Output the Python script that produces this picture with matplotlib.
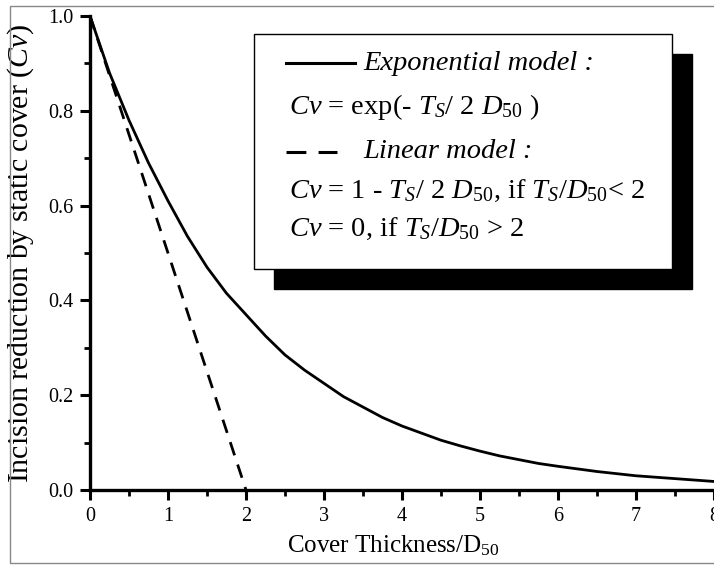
import matplotlib
matplotlib.use('Agg')
import matplotlib.pyplot as plt
import matplotlib.patches as mpatches
from matplotlib.lines import Line2D
from matplotlib.ticker import MultipleLocator, FormatStrFormatter

plt.rcParams['font.family'] = ['Liberation Serif', 'DejaVu Serif']
plt.rcParams['mathtext.fontset'] = 'custom'
plt.rcParams['mathtext.rm'] = 'Liberation Serif'
plt.rcParams['mathtext.it'] = 'Liberation Serif:italic'

# values
exp_x = [0, 0.25, 0.5, 0.75, 1, 1.25, 1.5, 1.75, 2, 2.25, 2.5, 2.75, 3, 3.25, 3.5, 3.75,
         4, 4.25, 4.5, 4.75, 5, 5.25, 5.5, 5.75, 6, 6.5, 7, 7.5, 8]
exp_y = [1.0, 0.88, 0.78, 0.69, 0.61, 0.535, 0.47, 0.415, 0.37, 0.325, 0.285, 0.253,
         0.225, 0.197, 0.175, 0.153, 0.135, 0.12, 0.105, 0.093, 0.082, 0.072, 0.064,
         0.056, 0.05, 0.039, 0.03, 0.024, 0.018]
lin_x = [0, 2]
lin_y = [1.0, 0.0]

W, H = 714, 565
fig = plt.figure(figsize=(W / 100, H / 100), dpi=100)
ax = fig.add_axes([90 / W, 1 - 490 / H, 624 / W, 474 / H])

ax.plot(exp_x, exp_y, color='black', lw=2.0, solid_joinstyle='round')
ax.plot(lin_x, lin_y, color='black', lw=2.0, linestyle=(0, (5, 3.5)))

ax.set_xlim(0, 8)
ax.set_ylim(0, 1.0)
ax.xaxis.set_major_locator(MultipleLocator(1))
ax.xaxis.set_minor_locator(MultipleLocator(0.5))
ax.yaxis.set_major_locator(MultipleLocator(0.2))
ax.yaxis.set_minor_locator(MultipleLocator(0.1))
ax.yaxis.set_major_formatter(FormatStrFormatter('%.1f'))
ax.tick_params(which='major', direction='out', length=7, width=2.2, labelsize=14.5, pad=5)
ax.tick_params(which='minor', direction='out', length=4, width=2.0)
for s in ['top', 'right']:
    ax.spines[s].set_visible(False)
for s in ['left', 'bottom']:
    ax.spines[s].set_linewidth(2.4)

ax.set_xlabel('Cover Thickness/D$_{\\mathrm{50}}$', fontsize=18, va='top')
ax.xaxis.set_label_coords((393 - 90) / 624, (490 - 533) / 474)
ax.set_ylabel('Incision reduction by static cover ($Cv$)', fontsize=21.5)
ax.yaxis.set_label_coords((36 - 90) / 624, 0.5)

# legend box with drop shadow
bx0, bx1 = 254 / W, 672 / W
by1, by0 = 1 - 34 / H, 1 - 269 / H
dx, dy = 20 / W, 20 / H
fig.patches.append(mpatches.Rectangle((bx0 + dx, by0 - dy), bx1 - bx0, by1 - by0,
                                      transform=fig.transFigure, facecolor='black',
                                      edgecolor='black', zorder=5))
fig.patches.append(mpatches.Rectangle((bx0, by0), bx1 - bx0, by1 - by0,
                                      transform=fig.transFigure, facecolor='white',
                                      edgecolor='black', lw=1.0, zorder=6))

fs = 20.5
tx = 289 / W
fig.lines.append(Line2D([286 / W, 355 / W], [1 - 63 / H] * 2, transform=fig.transFigure,
                        color='black', lw=2.2, zorder=7))
fig.text(363 / W, 1 - 63 / H, 'Exponential model :', style='italic', fontsize=fs,
         va='center', zorder=7)
fig.text(tx, 1 - 107 / H, '$Cv$ = exp(- $T_S$/ 2 $D_{\\mathit{50}}$ )', fontsize=fs,
         va='center', zorder=7)
fig.lines.append(Line2D([286 / W, 337 / W], [1 - 152 / H] * 2, transform=fig.transFigure,
                        color='black', lw=2.2, linestyle=(0, (6.5, 4)), zorder=7))
fig.text(363 / W, 1 - 152 / H, 'Linear model :', style='italic', fontsize=fs,
         va='center', zorder=7)
fig.text(tx, 1 - 191 / H,
         '$Cv$ = 1 - $T_S$/ 2 $D_{\\mathit{50}}$, if $T_S$/$D_{\\mathit{50}}$< 2',
         fontsize=fs, va='center', zorder=7)
fig.text(tx, 1 - 229 / H, '$Cv$ = 0, if $T_S$/$D_{\\mathit{50}}$ > 2', fontsize=fs,
         va='center', zorder=7)

# thin frame around the whole picture
fig.patches.append(mpatches.Rectangle((10 / W, 1 - 563 / H), 1.0, (563 - 6) / H,
                                      transform=fig.transFigure, fill=False,
                                      edgecolor='#888888', lw=1.0, zorder=0))

fig.savefig('out.png', dpi=100)
